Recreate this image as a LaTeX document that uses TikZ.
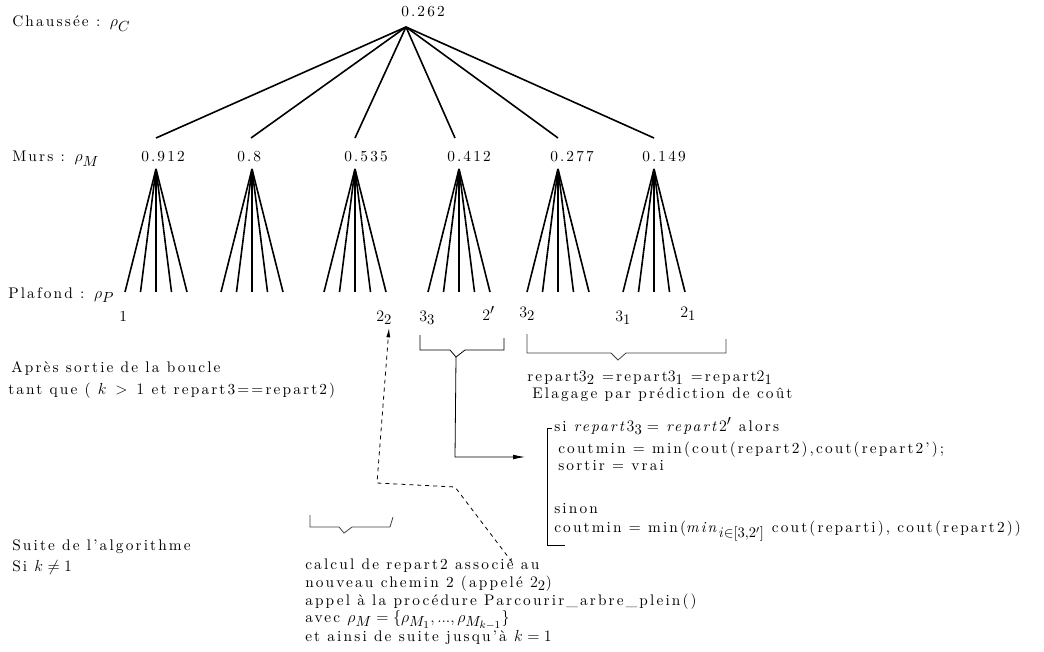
\documentclass[tikz,border=0pt]{standalone}
\usepackage{fontspec}
\setmainfont{lmroman10-regular.otf}[ItalicFont=lmroman10-italic.otf,BoldFont=lmroman10-bold.otf,LetterSpace=14]
\DeclareMathSizes{11.5}{11.5}{10.5}{8.5}
\usetikzlibrary{arrows.meta}
\tikzset{
  lbl/.style={anchor=base west,inner sep=0pt,font=\fontsize{11.5}{13}\selectfont},
  treeline/.style={line width=1.2pt},
  thin/.style={line width=0.6pt},
  arr/.style={-{Latex[length=9pt,width=3.6pt]}},
  darr/.style={dashed,line width=0.6pt,-{Latex[length=7pt,width=3pt]}},
}
\begin{document}
\begin{tikzpicture}[x=0.75pt,y=-0.75pt]
\useasboundingbox (0,0) rectangle (1044,652);
% level labels
\node[lbl] (lc) at (12,27) {Chaussée : $\rho_C$};
\node[lbl] (lm) at (12,162) {Murs : $\rho_M$};
\node[lbl] (lp) at (8,298) {Plafond : $\rho_P$};
% root
\node[lbl] (root) at (401,17) {0.262};
\coordinate (r) at (406,27);
% murs
\foreach \i/\tx/\lx/\v in {1/156/141/0.912,2/251/237/0.8,3/355/344/0.535,4/455/447/0.412,5/558/550/0.277,6/654/642/0.149}{
  \node[lbl] (m\i) at (\lx,162) {\v};
  \coordinate (t\i) at (\tx,138);
  \draw[treeline] (r) -- (t\i);
}
% subtrees
\foreach \i/\ax in {1/156,2/252,3/355,4/459,5/558,6/654}{
  \coordinate (a\i) at (\ax,169);
  \foreach \j/\d in {1/-31,2/-15.5,3/0,4/15.5,5/31}{
    \coordinate (p\i\j) at (\ax+\d,292);
    \draw[treeline] (a\i) -- (p\i\j);
  }
}
% leaf labels
\node[lbl] (l1) at (119,321) {1};
\node[lbl] (l22) at (376,321) {$2_2$};
\node[lbl] (l33) at (419,321) {$3_3$};
\node[lbl] (l2p) at (482,320) {$2'$};
\node[lbl] (l32) at (519,317) {$3_2$};
\node[lbl] (l31) at (615,321) {$3_1$};
\node[lbl] (l21) at (680,317) {$2_1$};
% braces
\coordinate (b1) at (456,357);
\draw[thin] (420,335) -- (420,350) -- (450,350) -- (b1) -- (465,350) -- (504,350) -- (504,338);
\coordinate (b2) at (618,360);
\draw[thin,black!75] (527,334) -- (527,353) -- (611,353) -- (b2) -- (626,353) -- (726,353) -- (726,339);
\coordinate (b3) at (344,533);
\draw[thin,black!75] (310,515) -- (310,527) -- (339,527) -- (b3) -- (352,527) -- (390,527) -- (393,517);
% left texts
\node[lbl] (t1a) at (11,372) {Après sortie de la boucle};
\node[lbl] (t1b) at (8,394) {tant que ( $k\;>\;1$ et repart3==repart2)};
\node[lbl] (t2a) at (12,550) {Suite de l'algorithme};
\node[lbl] (t2b) at (12,571) {Si $k\neq1$};
% right texts
\node[lbl] (e1) at (527,381) {repart$3_2$ =repart$3_1$ =repart$2_1$};
\node[lbl] (e2) at (532,398) {Elagage par prédiction de coût};
% algorithm block
\node[lbl] (s1) at (554,431) {si \textit{repart}$3_3=$ \textit{repart}$2'$ alors};
\node[lbl] (s2) at (558,453) {coutmin = min(cout(repart2),cout(repart2');};
\node[lbl] (s3) at (558,470) {sortir = vrai};
\node[lbl] (s4) at (554,513) {sinon};
\node[lbl] (s5) at (554,532) {coutmin = min(\textit{min}$_{i\in[3,2']}$ cout(reparti), cout(repart2))};
\draw[thin] (552,428) -- (547,428) -- (547,545) -- (565,545);
\coordinate (bk) at (525,457);
\draw[thin,arr] (b1) -- (455,457) -- (bk);
% bottom block
\node[lbl] (c1) at (305,569) {calcul de repart2 associé au};
\node[lbl] (c2) at (305,587) {nouveau chemin 2 (appelé $2_2$)};
\node[lbl] (c3) at (305,605) {appel à la procédure Parcourir\_arbre\_plein()};
\node[lbl] (c4) at (305,622) {avec $\rho_M=\{\rho_{M_1},...,\rho_{M_{k-1}}\}$};
\node[lbl] (c5) at (305,641) {et ainsi de suite jusqu'à $k=1$};
% dashed connector
\coordinate (d0) at (512,562);
\draw[darr] (d0) -- (455,487) -- (377,483) -- (389,328);
\end{tikzpicture}
\end{document}
